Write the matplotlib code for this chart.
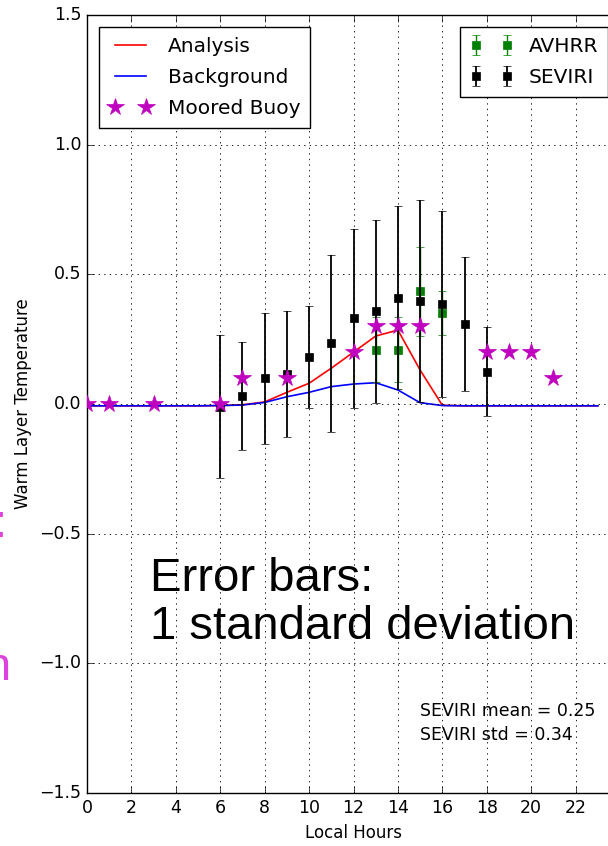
import matplotlib
matplotlib.use('Agg')
from matplotlib import pyplot as plt

# data
hours = [0, 1, 2, 3, 4, 5, 6, 7, 8, 9, 10, 11, 12, 13, 14, 15, 16, 17, 18, 19, 20, 21, 22, 23]
analysis = [-0.007, -0.007, -0.007, -0.007, -0.007, -0.007, -0.006, -0.003, 0.008, 0.045,
            0.08, 0.138, 0.2, 0.262, 0.285, 0.131, -0.005, -0.007, -0.007, -0.007,
            -0.007, -0.007, -0.007, -0.007]
background = [-0.007, -0.007, -0.007, -0.007, -0.007, -0.007, -0.006, -0.004, 0.006, 0.028,
              0.045, 0.067, 0.077, 0.082, 0.054, 0.005, -0.006, -0.007, -0.007, -0.007,
              -0.007, -0.007, -0.007, -0.007]

buoy_hours = [0, 1, 3, 6, 7, 9, 12, 13, 14, 15, 18, 19, 20, 21]
buoy = [0.0, 0.0, 0.0, 0.0, 0.1, 0.1, 0.2, 0.3, 0.3, 0.3, 0.2, 0.2, 0.2, 0.1]

seviri_hours = [6, 7, 8, 9, 10, 11, 12, 13, 14, 15, 16, 17, 18]
seviri_mean = [-0.01, 0.031, 0.099, 0.117, 0.18, 0.234, 0.33, 0.357, 0.41, 0.397, 0.386, 0.309, 0.125]
seviri_std = [0.275, 0.208, 0.252, 0.243, 0.196, 0.341, 0.345, 0.352, 0.354, 0.39, 0.358, 0.258, 0.173]

avhrr_hours = [13, 14, 15, 16]
avhrr_mean = [0.21, 0.21, 0.434, 0.35]
avhrr_std = [0.125, 0.127, 0.17, 0.085]

plt.style.use('classic')
plt.rcParams['font.family'] = ['DejaVu Sans']

fig = plt.figure(figsize=(6.08, 8.46), dpi=100, facecolor='white')
ax = fig.add_axes([87 / 608, 53 / 846, 533 / 608, 778 / 846])

# 绘制数据
l1, = ax.plot(hours, analysis, c='red', lw=1.2, label='Analysis')
l2, = ax.plot(hours, background, c='blue', lw=1.2, label='Background')
e1 = ax.errorbar(avhrr_hours, avhrr_mean, yerr=avhrr_std, fmt='s', color='green',
                 mec='green', ms=6, capsize=3, elinewidth=1.0, label='AVHRR', zorder=3)
e2 = ax.errorbar(seviri_hours, seviri_mean, yerr=seviri_std, fmt='s', color='black',
                 mec='black', ms=6, capsize=3, elinewidth=1.3, label='SEVIRI', zorder=4)
s1, = ax.plot(buoy_hours, buoy, '*', color='m', mec='m', ms=13, label='Moored Buoy', zorder=5)

ax.set_xlim(0, 24)
ax.set_ylim(-1.5, 1.5)
ax.set_xticks([0, 2, 4, 6, 8, 10, 12, 14, 16, 18, 20, 22])
ax.set_yticks([-1.5, -1.0, -0.5, 0.0, 0.5, 1.0, 1.5])
ax.tick_params(axis='both', which='major', labelsize=12.5, direction='in', length=5)
ax.grid(True, color='k', linestyle=':', linewidth=0.6)
ax.set_xlabel('Local Hours', fontsize=12)
ax.set_ylabel('Warm Layer Temperature', fontsize=12)

# 图例
leg_opts = dict(fontsize=14.5, numpoints=2, handlelength=2.15, handletextpad=0.75,
                labelspacing=0.6, borderpad=0.5, borderaxespad=0.6,
                fancybox=False, shadow=False)
leg1 = ax.legend([l1, l2, s1], ['Analysis', 'Background', 'Moored Buoy'],
                 loc='upper left', **leg_opts)
ax.add_artist(leg1)
ax.legend([e1, e2], ['AVHRR', 'SEVIRI'], loc='upper right', **leg_opts)

ax.text(15, -1.205, 'SEVIRI mean = 0.25', fontsize=12.5, va='baseline')
ax.text(15, -1.295, 'SEVIRI std = 0.34', fontsize=12.5, va='baseline')

fig.text(150 / 608, 1 - 639 / 846, 'Error bars:\n1 standard deviation', fontsize=34,
         family='Liberation Sans', va='baseline', linespacing=1.12)

# 左侧被裁掉的文字片段
fig.text(7 / 608, 1 - 537 / 846, ':', fontsize=34, family='Liberation Sans',
         color='#dd44dd', ha='right', va='baseline')
fig.text(11 / 608, 1 - 680 / 846, 'n', fontsize=34, family='Liberation Sans',
         color='#dd44dd', ha='right', va='baseline')

plt.savefig('out.png', dpi=100, facecolor='white')
